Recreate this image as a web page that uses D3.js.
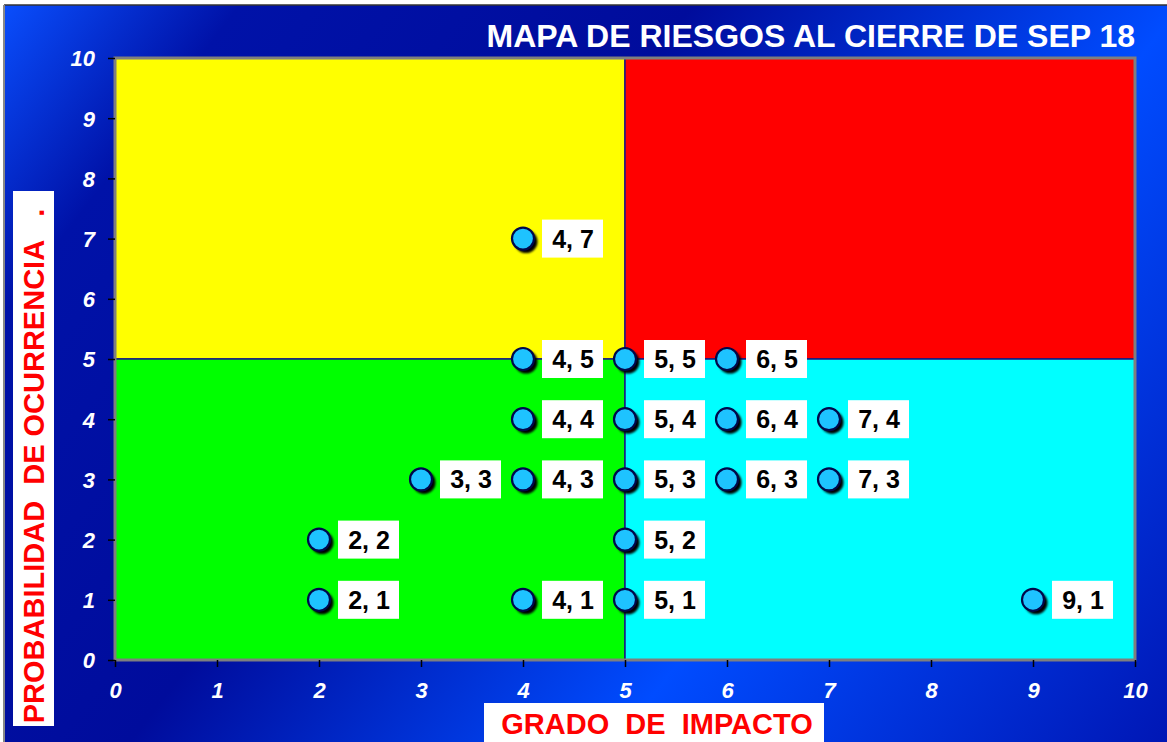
<!DOCTYPE html>
<html lang="es">
<head>
<meta charset="UTF-8">
<title>Mapa de riesgos</title>
<script src="https://d3js.org/d3.v7.min.js"></script>
<style>
    body {margin: 0; background: #ffffff;}
    svg {display: block; font-family: Arial, "Liberation Sans", sans-serif;}
</style>
</head>
<body>
<div id="chart"></div>
<script>
// Datos del mapa de riesgos
var impacto      = [4, 4, 5, 6, 4, 5, 6, 7, 3, 4, 5, 6, 7, 2, 5, 2, 4, 5, 9];
var probabilidad = [7, 5, 5, 5, 4, 4, 4, 4, 3, 3, 3, 3, 3, 2, 2, 1, 1, 1, 1];
var xTicks = [0, 1, 2, 3, 4, 5, 6, 7, 8, 9, 10];
var yTicks = [0, 1, 2, 3, 4, 5, 6, 7, 8, 9, 10];

// Zonas (cuadrantes) en unidades del grafico
var zonaX0 = [0, 5, 0, 5];
var zonaX1 = [5, 10, 5, 10];
var zonaY0 = [5, 5, 0, 0];
var zonaY1 = [10, 10, 5, 5];
var zonaColor = ["#ffff00", "#ff0000", "#00ff00", "#00ffff"];

var titulo = "MAPA DE RIESGOS AL CIERRE DE SEP 18";
var tituloX = "GRADO  DE  IMPACTO";
var tituloY = "PROBABILIDAD  DE OCURRENCIA   .";

var width = 1167, height = 742;
var plotLeft = 115, plotRight = 1135, plotTop = 58, plotBottom = 660;

var svg = d3.select("#chart").append("svg")
    .attr("width", width)
    .attr("height", height);

// Fondo degradado
var defs = svg.append("defs");
var grad = defs.append("linearGradient")
    .attr("id", "fondo")
    .attr("gradientUnits", "userSpaceOnUse")
    .attr("x1", 0).attr("y1", 0)
    .attr("x2", 1100).attr("y2", 840);
grad.append("stop").attr("offset", 0).attr("stop-color", "#0a50ff");
grad.append("stop").attr("offset", 0.14).attr("stop-color", "#0012a8");
grad.append("stop").attr("offset", 0.4).attr("stop-color", "#000c9c");
grad.append("stop").attr("offset", 0.68).attr("stop-color", "#004cff");
grad.append("stop").attr("offset", 1).attr("stop-color", "#0016b4");

// Sombra difusa de los puntos
defs.append("filter")
    .attr("id", "sombra")
    .attr("x", "-50%").attr("y", "-50%")
    .attr("width", "200%").attr("height", "200%")
    .append("feGaussianBlur").attr("stdDeviation", 1);

svg.append("rect")
    .attr("x", 4).attr("y", 5)
    .attr("width", width - 4).attr("height", height - 5)
    .attr("fill", "url(#fondo)");
svg.append("line")
    .attr("x1", 4).attr("x2", width).attr("y1", 5).attr("y2", 5)
    .attr("stroke", "#333333").attr("stroke-width", 1.5);
svg.append("line")
    .attr("x1", 4).attr("x2", 4).attr("y1", 5).attr("y2", height)
    .attr("stroke", "#888888").attr("stroke-width", 2);

// Escalas
var x = d3.scaleLinear().domain([0, 10]).range([plotLeft, plotRight]);
var y = d3.scaleLinear().domain([0, 10]).range([plotBottom, plotTop]);

// Cuadrantes
svg.append("g").selectAll("rect")
    .data(zonaColor)
    .enter().append("rect")
    .attr("x", function(d, i){ return x(zonaX0[i]); })
    .attr("y", function(d, i){ return y(zonaY1[i]); })
    .attr("width", function(d, i){ return x(zonaX1[i]) - x(zonaX0[i]); })
    .attr("height", function(d, i){ return y(zonaY0[i]) - y(zonaY1[i]); })
    .attr("fill", function(d){ return d; })
    .attr("stroke", "#1a1a80")
    .attr("stroke-width", 1.5);

// Borde del area de trazado
svg.append("rect")
    .attr("x", plotLeft).attr("y", plotTop)
    .attr("width", plotRight - plotLeft).attr("height", plotBottom - plotTop)
    .attr("fill", "none")
    .attr("stroke", "#7f7f7f")
    .attr("stroke-width", 3);

// Ejes
var yAxis = d3.axisLeft(y).tickValues(yTicks).tickSize(7).tickPadding(13);
var xAxis = d3.axisBottom(x).tickValues(xTicks).tickSize(7).tickPadding(15);

var gy = svg.append("g").attr("transform", "translate(" + plotLeft + ",0)").call(yAxis);
var gx = svg.append("g").attr("transform", "translate(0," + plotBottom + ")").call(xAxis);

[gx, gy].forEach(function(g){
    g.select(".domain").remove();
    g.selectAll(".tick line").attr("stroke", "#000000").attr("stroke-width", 1.5);
    g.selectAll(".tick text")
        .attr("fill", "#ffffff")
        .attr("font-size", "22px")
        .attr("font-weight", "bold")
        .attr("font-style", "italic")
        .attr("font-family", "Arial, 'Liberation Sans', sans-serif");
});
gy.selectAll(".tick text").attr("dy", "0.36em");

// Puntos de riesgo
var puntos = svg.append("g").selectAll("g")
    .data(impacto)
    .enter().append("g")
    .attr("transform", function(d, i){
        return "translate(" + x(d) + "," + y(probabilidad[i]) + ")";
    });

puntos.append("circle")
    .attr("cx", 3).attr("cy", 3).attr("r", 11.5)
    .attr("fill", "#000000")
    .attr("filter", "url(#sombra)");
puntos.append("circle")
    .attr("r", 11)
    .attr("fill", "#1ec3ff")
    .attr("stroke", "#00084a")
    .attr("stroke-width", 2.2);

puntos.append("rect")
    .attr("x", 19).attr("y", -19)
    .attr("width", 61).attr("height", 38)
    .attr("fill", "#ffffff");
puntos.append("text")
    .attr("x", 50).attr("y", 9)
    .attr("text-anchor", "middle")
    .attr("font-size", "25px")
    .attr("font-weight", "bold")
    .attr("fill", "#000000")
    .text(function(d, i){ return d + ", " + probabilidad[i]; });

// Titulo
svg.append("text")
    .attr("x", plotRight).attr("y", 47)
    .attr("text-anchor", "end")
    .attr("font-size", "32px")
    .attr("font-weight", "bold")
    .attr("fill", "#ffffff")
    .text(titulo);

// Titulo eje X
svg.append("rect")
    .attr("x", 484).attr("y", 703)
    .attr("width", 340).attr("height", 45)
    .attr("fill", "#ffffff");
svg.append("text")
    .attr("x", 657).attr("y", 734)
    .attr("text-anchor", "middle")
    .attr("font-size", "29px")
    .attr("font-weight", "bold")
    .attr("fill", "#ff0000")
    .style("white-space", "pre")
    .text(tituloX);

// Titulo eje Y
svg.append("rect")
    .attr("x", 13).attr("y", 191)
    .attr("width", 41).attr("height", 535)
    .attr("fill", "#ffffff");
svg.append("text")
    .attr("transform", "translate(44,466) rotate(-90)")
    .attr("text-anchor", "middle")
    .attr("font-size", "29px")
    .attr("font-weight", "bold")
    .attr("fill", "#ff0000")
    .style("white-space", "pre")
    .text(tituloY);
</script>
</body>
</html>
